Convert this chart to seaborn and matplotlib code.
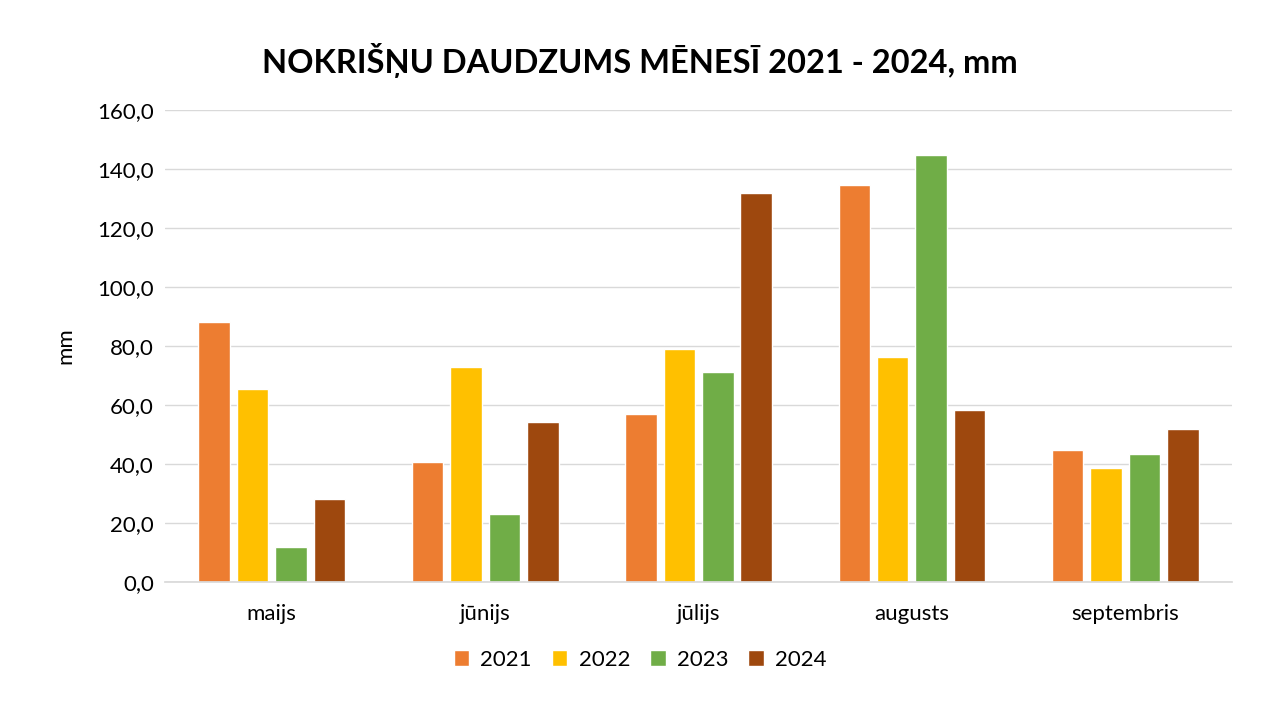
import matplotlib
matplotlib.use("Agg")
import matplotlib.pyplot as plt
import seaborn as sns
import pandas as pd
from matplotlib.ticker import FuncFormatter, MultipleLocator

months = ["maijs", "jūnijs", "jūlijs", "augusts", "septembris"]
years = ["2021", "2022", "2023", "2024"]
v2021 = [88.2, 40.8, 57.0, 134.7, 44.8]
v2022 = [65.5, 73.0, 79.1, 76.4, 38.7]
v2023 = [12.0, 23.1, 71.3, 144.9, 43.5]
v2024 = [28.2, 54.3, 132.0, 58.4, 52.0]
colors = ["#ED7D31", "#FFC000", "#70AD47", "#9E480E"]

rows = []
for y, vals in zip(years, [v2021, v2022, v2023, v2024]):
    for m, v in zip(months, vals):
        rows.append({"month": m, "year": y, "value": v})
df = pd.DataFrame(rows)

sns.set_theme(style="white")
plt.rcParams['font.family'] = ['Lato', 'DejaVu Sans']
plt.rcParams['text.color'] = 'black'
plt.rcParams['axes.labelcolor'] = 'black'

fig = plt.figure(figsize=(12.8, 7.2), dpi=100)
ax = fig.add_axes([0.129, 0.1917, 0.8335, 0.6555])
sns.barplot(data=df, x="month", y="value", hue="year", order=months,
            hue_order=years, palette=colors, width=0.72, gap=0.18,
            saturation=1, ax=ax, legend=True)

ax.set_ylim(0, 160)
ax.yaxis.set_major_locator(MultipleLocator(20))
ax.yaxis.set_major_formatter(FuncFormatter(lambda v, p: f"{v:.1f}".replace(".", ",")))
ax.grid(axis="y", color="#D9D9D9", linewidth=1)
ax.set_axisbelow(True)
for s in ["top", "right", "left"]:
    ax.spines[s].set_visible(False)
ax.spines["bottom"].set_color("#D9D9D9")
ax.tick_params(axis="y", length=0, labelsize=16, colors="black", pad=8)
ax.tick_params(axis="x", length=0, labelsize=16, colors="black", pad=16)
ax.set_xlabel("")
ax.set_ylabel("mm", fontsize=16, labelpad=16, color="black")
ax.set_xlim(-0.5, 4.5)

fig.suptitle("NOKRIŠŅU DAUDZUMS MĒNESĪ 2021 - 2024, mm", fontsize=23.5,
             fontweight="bold", x=0.5, y=0.94, color="black")

handles, labels = ax.get_legend_handles_labels()
ax.legend(handles, labels, loc="center", bbox_to_anchor=(0.5, 0.0833),
          bbox_transform=fig.transFigure, ncol=4, frameon=False, fontsize=16,
          handlelength=0.7, handleheight=0.7, handletextpad=0.5, columnspacing=0.9)

fig.savefig("out.png", dpi=100)
